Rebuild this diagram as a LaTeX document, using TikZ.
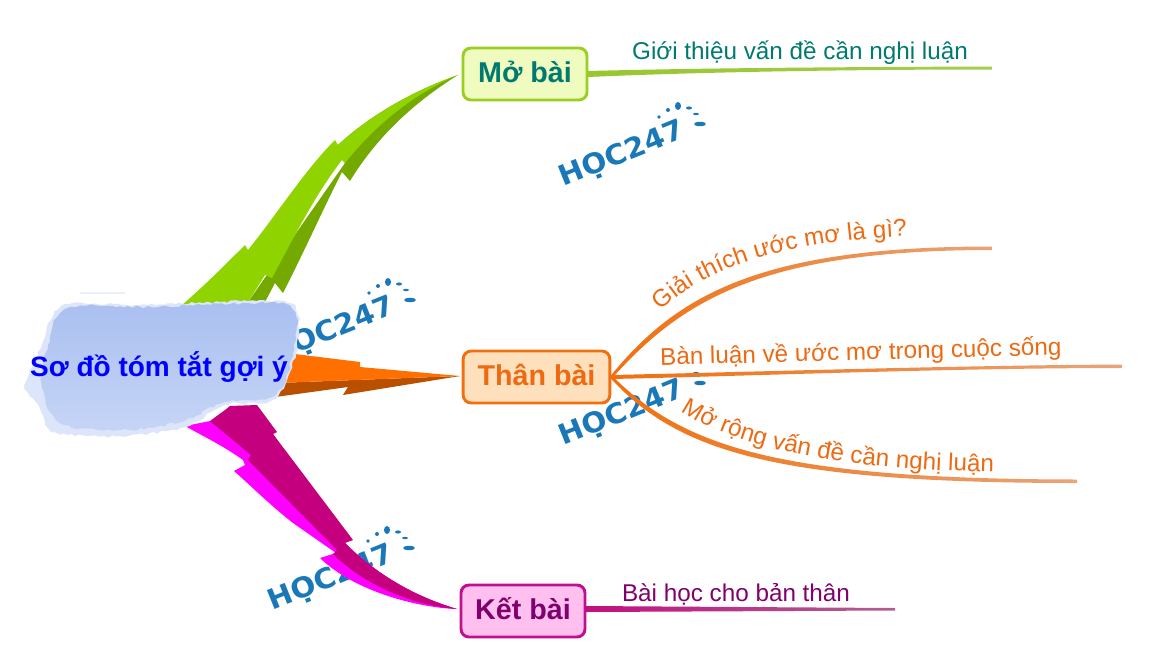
\documentclass[tikz,border=0pt]{standalone}
\usepackage{fontspec}
\setmainfont{Liberation Sans}
\newfontfamily\markfont{DejaVu Sans}
\usetikzlibrary{decorations.text,decorations.pathmorphing}
\definecolor{tealtext}{HTML}{007A70}
\definecolor{orangetext}{HTML}{EE6A12}
\definecolor{purpletext}{HTML}{80006E}
\definecolor{markblue}{HTML}{1A78B8}
\definecolor{greenlight}{HTML}{8FD400}
\definecolor{greendark}{HTML}{74AA00}
\definecolor{orangelight}{HTML}{FF7000}
\definecolor{orangedark}{HTML}{B85000}
\definecolor{pinklight}{HTML}{FF00FF}
\definecolor{pinkdark}{HTML}{C4007F}
\definecolor{patchpale}{HTML}{DCE5FA}
\definecolor{patchmid}{HTML}{C6D5F6}
\definecolor{patchdeep}{HTML}{A9BFF0}
\tikzset{
  topicbox/.style={draw,rounded corners=6pt,line width=2.2pt,minimum height=39pt,text height=15pt,text depth=3pt,font=\fontsize{21.5}{24}\bfseries},
  subtext/.style={font=\fontsize{18.2}{20}\selectfont,inner sep=0pt},
  splash/.style={fill=markblue,draw=none},
  rough/.style={decorate,decoration={random steps,segment length=3pt,amplitude=1pt}},
  pics/hocmark/.style={code={
    \node[rotate=22,xscale=1.05,text=markblue,font=\markfont\fontsize{21}{24}\bfseries] at (-8,10) {HỌC247};
    \fill[splash] (48,-39) ellipse (3 and 4);
    \fill[splash] (38,-35) circle (2);
    \fill[splash] (29,-28) circle (1.8);
    \fill[splash] (59,-37) ellipse (3 and 1.6);
    \fill[splash] (66,-31) ellipse (3 and 1.2);
    \fill[splash] (70,-21) ellipse (6 and 2.2);
  }}
}
\begin{document}
\begin{tikzpicture}[x=0.75pt,y=-0.75pt]
\useasboundingbox (0,0) rectangle (1153,665);
% watermarks
\pic (markone) at (630,145) {hocmark};
\pic (marktwo) at (340,321) {hocmark};
\pic (markthree) at (630,404) {hocmark};
\pic (markfour) at (339,569) {hocmark};
% topic boxes
\definecolor{mofill}{HTML}{F0FBC0}\definecolor{modraw}{HTML}{99D020}
\definecolor{thanfill}{HTML}{FFE0BC}\definecolor{thandraw}{HTML}{F07010}
\definecolor{ketfill}{HTML}{FFC0F0}\definecolor{ketdraw}{HTML}{C0108C}
\node[topicbox,fill=mofill,draw=modraw,text=tealtext,minimum width=93pt] (mobai) at (525,74) {Mở bài};
\node[topicbox,fill=thanfill,draw=thandraw,text=orangetext,minimum width=110pt] (thanbai) at (536.5,377) {Thân bài};
\node[topicbox,fill=ketfill,draw=ketdraw,text=purpletext,minimum width=93pt] (ketbai) at (523,611) {Kết bài};
\coordinate (tipmo) at (458,75);
\coordinate (tipthan) at (460,376);
\coordinate (tipket) at (457,609);
% thick green arrow
\fill[greendark] (248,302) -- (265,302) -- (275,283) -- (283,293)
  .. controls (305,250) and (325,205) .. (342,172) -- (350,181)
  .. controls (375,140) and (410,105) .. (tipmo)
  .. controls (415,90) and (370,115) .. (338,145) -- (345,163) -- cycle;
\fill[greenlight] (182,305) .. controls (205,285) and (225,265) .. (245,245) -- (248,250)
  .. controls (280,210) and (305,170) .. (335,140) -- (338,145)
  .. controls (370,115) and (415,90) .. (tipmo)
  .. controls (415,93) and (375,125) .. (345,163) -- (342,160)
  .. controls (315,195) and (295,235) .. (272,278) -- (265,275) -- (248,302) -- cycle;
% thick orange arrow
\fill[orangedark] (268,398) -- (348,387) -- (343,395) -- (tipthan) -- (355,380) -- (277,383) -- cycle;
\fill[orangelight] (295,354) -- (360,362) -- (360,367) -- (tipthan) -- (355,380) -- (277,383) -- (270,385) -- cycle;
% thick magenta arrow
\fill[pinklight] (185,426) -- (210,421) -- (273,434) -- (345,543)
  .. controls (380,578) and (420,598) .. (tipket)
  .. controls (420,608) and (355,592) .. (320,558) -- (336,553) -- (293,523)
  .. controls (270,505) and (250,485) .. (234,471) -- (245,465) -- (243,460)
  .. controls (225,447) and (205,437) .. (185,426) -- cycle;
\fill[pinkdark] (210,421) -- (225,410) -- (230,406) -- (257,405) -- (277,432) -- (273,434)
  -- (353,540) -- (345,543) .. controls (380,578) and (420,598) .. (tipket)
  .. controls (420,606) and (370,590) .. (333,554) -- (337,550) -- (248,460) -- (251,455) -- cycle;
% centre patch
\fill[patchpale,rough] plot[smooth cycle,tension=.5] coordinates {(62,306) (140,305) (220,302) (292,304) (297,345) (285,385) (268,402) (225,405) (185,427) (120,436) (55,432) (38,405) (25,385) (42,345)};
\shade[top color=patchdeep,bottom color=patchmid,rough] plot[smooth cycle,tension=.6] coordinates {(68,308) (150,307) (230,304) (290,306) (294,345) (276,394) (225,402) (180,422) (120,430) (62,424) (42,388) (48,345)};
\fill[patchdeep,opacity=.25] (80,292) rectangle (125,293.5);
\node[font=\fontsize{21}{24}\bfseries,text=blue,inner sep=0pt] (tomtat) at (159,367) {Sơ đồ tóm tắt gợi ý};
% branches
\definecolor{palegreen}{HTML}{A6CC50}\definecolor{strongreen}{HTML}{99C62E}
\definecolor{paleorange}{HTML}{E9A478}\definecolor{strongorange}{HTML}{F07010}
\definecolor{palepink}{HTML}{B06090}\definecolor{strongpink}{HTML}{C01080}
\coordinate (endgioi) at (992,68);
\coordinate (endgiai) at (992,248);
\coordinate (endban) at (1122,366);
\coordinate (endrong) at (1077,481);
\coordinate (endbai) at (895,609);
\shade[left color=strongreen,right color=palegreen] (588,71) .. controls (700,68) and (850,67) .. (992,66.5) -- (endgioi) -- (992,69.5) .. controls (850,69.5) and (700,72) .. (588,77) -- cycle;
\shade[left color=strongorange,right color=paleorange] ([yshift=1.5pt]thanbai.east) .. controls (677,295) and (760,246.5) .. (992,246.5) -- (endgiai) -- (992,250) .. controls (762,250) and (682,300) .. ([yshift=-1.5pt]thanbai.east) -- cycle;
\shade[left color=strongorange,right color=paleorange] ([yshift=1.5pt]thanbai.east) .. controls (750,372) and (950,365.5) .. (1122,364.5) -- (endban) -- (1122,368) .. controls (950,368) and (750,376) .. ([yshift=-1.5pt]thanbai.east) -- cycle;
\shade[left color=strongorange,right color=paleorange] ([yshift=1.5pt]thanbai.east) .. controls (683,447) and (780,479) .. (1077,479.5) -- (endrong) -- (1077,483) .. controls (775,483) and (678,451) .. ([yshift=-1.5pt]thanbai.east) -- cycle;
\shade[left color=strongpink,right color=palepink] (586,606) -- (895,608) -- (endbai) -- (895,610.5) -- (586,612) -- cycle;
% branch texts
\node[subtext,text=tealtext,anchor=base] (gioi) at (800,59) {Giới thiệu vấn đề cần nghị luận};
\node[subtext,text=orangetext,anchor=base,rotate=1.5,fill=white,inner sep=1pt] (ban) at (861,360) {Bàn luận về ước mơ trong cuộc sống};
\draw[draw=none,decorate,decoration={text along path,text align=center,
  text={|\fontsize{18.2}{20}\selectfont\color{orangetext}|Giải thích ước mơ là gì?}}]
  (658,314) .. controls (703,268) and (783,241) .. (911,236);
\draw[draw=none,decorate,decoration={text along path,text align=center,
  text={|\fontsize{18.2}{20}\selectfont\color{orangetext}|Mở rộng vấn đề cần nghị luận}}]
  (680,410) .. controls (730,445) and (830,470) .. (995,472);
\node[subtext,text=purpletext,anchor=base] (baihoc) at (736,601) {Bài học cho bản thân};
\end{tikzpicture}
\end{document}
